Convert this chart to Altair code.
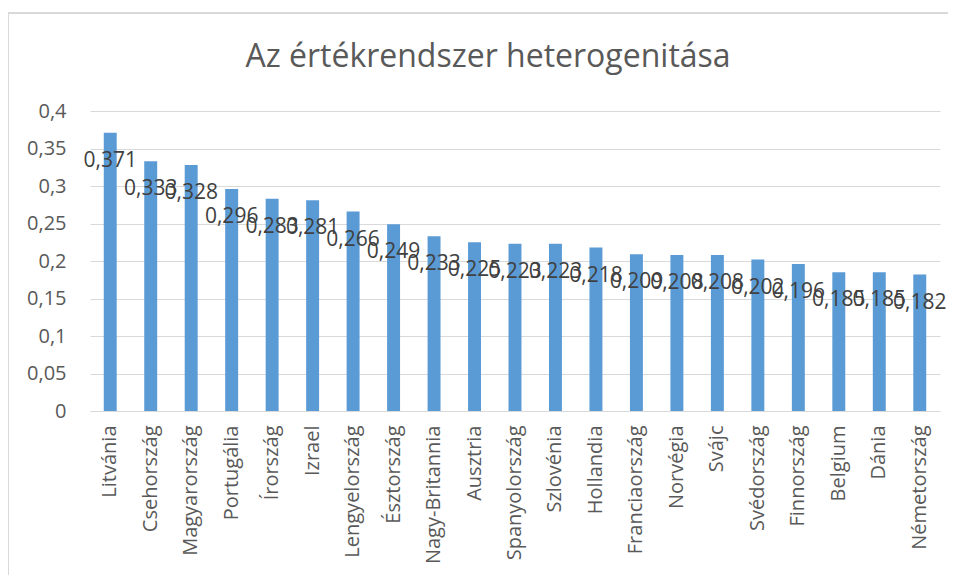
import altair as alt
import pandas as pd

TITLE = "Az értékrendszer heterogenitása"
countries = ["Litvánia", "Csehország", "Magyarország", "Portugália", "Írország", "Izrael",
             "Lengyelország", "Észtország", "Nagy-Britannia", "Ausztria", "Spanyolország",
             "Szlovénia", "Hollandia", "Franciaország", "Norvégia", "Svájc", "Svédország",
             "Finnország", "Belgium", "Dánia", "Németország"]
values = [0.371, 0.333, 0.328, 0.296, 0.283, 0.281, 0.266, 0.249, 0.233, 0.225, 0.223,
          0.223, 0.218, 0.209, 0.208, 0.208, 0.202, 0.196, 0.185, 0.185, 0.182]
y_ticks = [0, 0.05, 0.1, 0.15, 0.2, 0.25, 0.3, 0.35, 0.4]

df = pd.DataFrame({"orszag": countries, "ertek": values})
df["cimke"] = [f"{v:.3f}".replace(".", ",") for v in values]

FONT = "Open Sans"

x = alt.X("orszag:N", sort=countries, title=None,
          scale=alt.Scale(paddingInner=0.68, paddingOuter=0.34),
          axis=alt.Axis(labelAngle=-90, labelFontSize=20, labelColor="#595959",
                        labelFont=FONT, ticks=False, domainColor="#d9d9d9",
                        labelPadding=14, grid=False, labelOverlap=False, labelBound=False))
y = alt.Y("ertek:Q", title=None, scale=alt.Scale(domain=[0, 0.4], nice=False),
          axis=alt.Axis(values=y_ticks, labelExpr="replace(format(datum.value, '.2~f'), '.', ',')",
                        labelFontSize=20, labelColor="#595959", labelFont=FONT,
                        ticks=False, domain=False, gridColor="#d9d9d9", labelPadding=24,
                        labelOverlap=False))

bars = alt.Chart(df).mark_bar(color="#5b9bd5").encode(x=x, y=y)
labels = alt.Chart(df).mark_text(dy=28, fontSize=21, font=FONT, color="#404040").encode(
    x=x, y=y, text="cimke:N")

frame = alt.Chart(df).mark_rect(fill=None, stroke="#d9d9d9", strokeWidth=1.5).encode(
    x=alt.value(-82), x2=alt.value(1000), y=alt.value(-98), y2=alt.value(600))

title = alt.Chart(pd.DataFrame({"t": [TITLE]})).mark_text(
    fontSize=32, font=FONT, color="#595959", align="center", baseline="middle").encode(
    x=alt.value(398), y=alt.value(-54), text="t:N")

chart = alt.layer(frame, bars, labels, title).properties(
    width=850, height=300,
    autosize=alt.AutoSizeParams(type="none"),
    padding={"left": 82, "top": 103, "right": 8, "bottom": 164},
).configure_view(stroke=None)

chart.save("out.html", embed_options={"renderer": "svg", "actions": False})
